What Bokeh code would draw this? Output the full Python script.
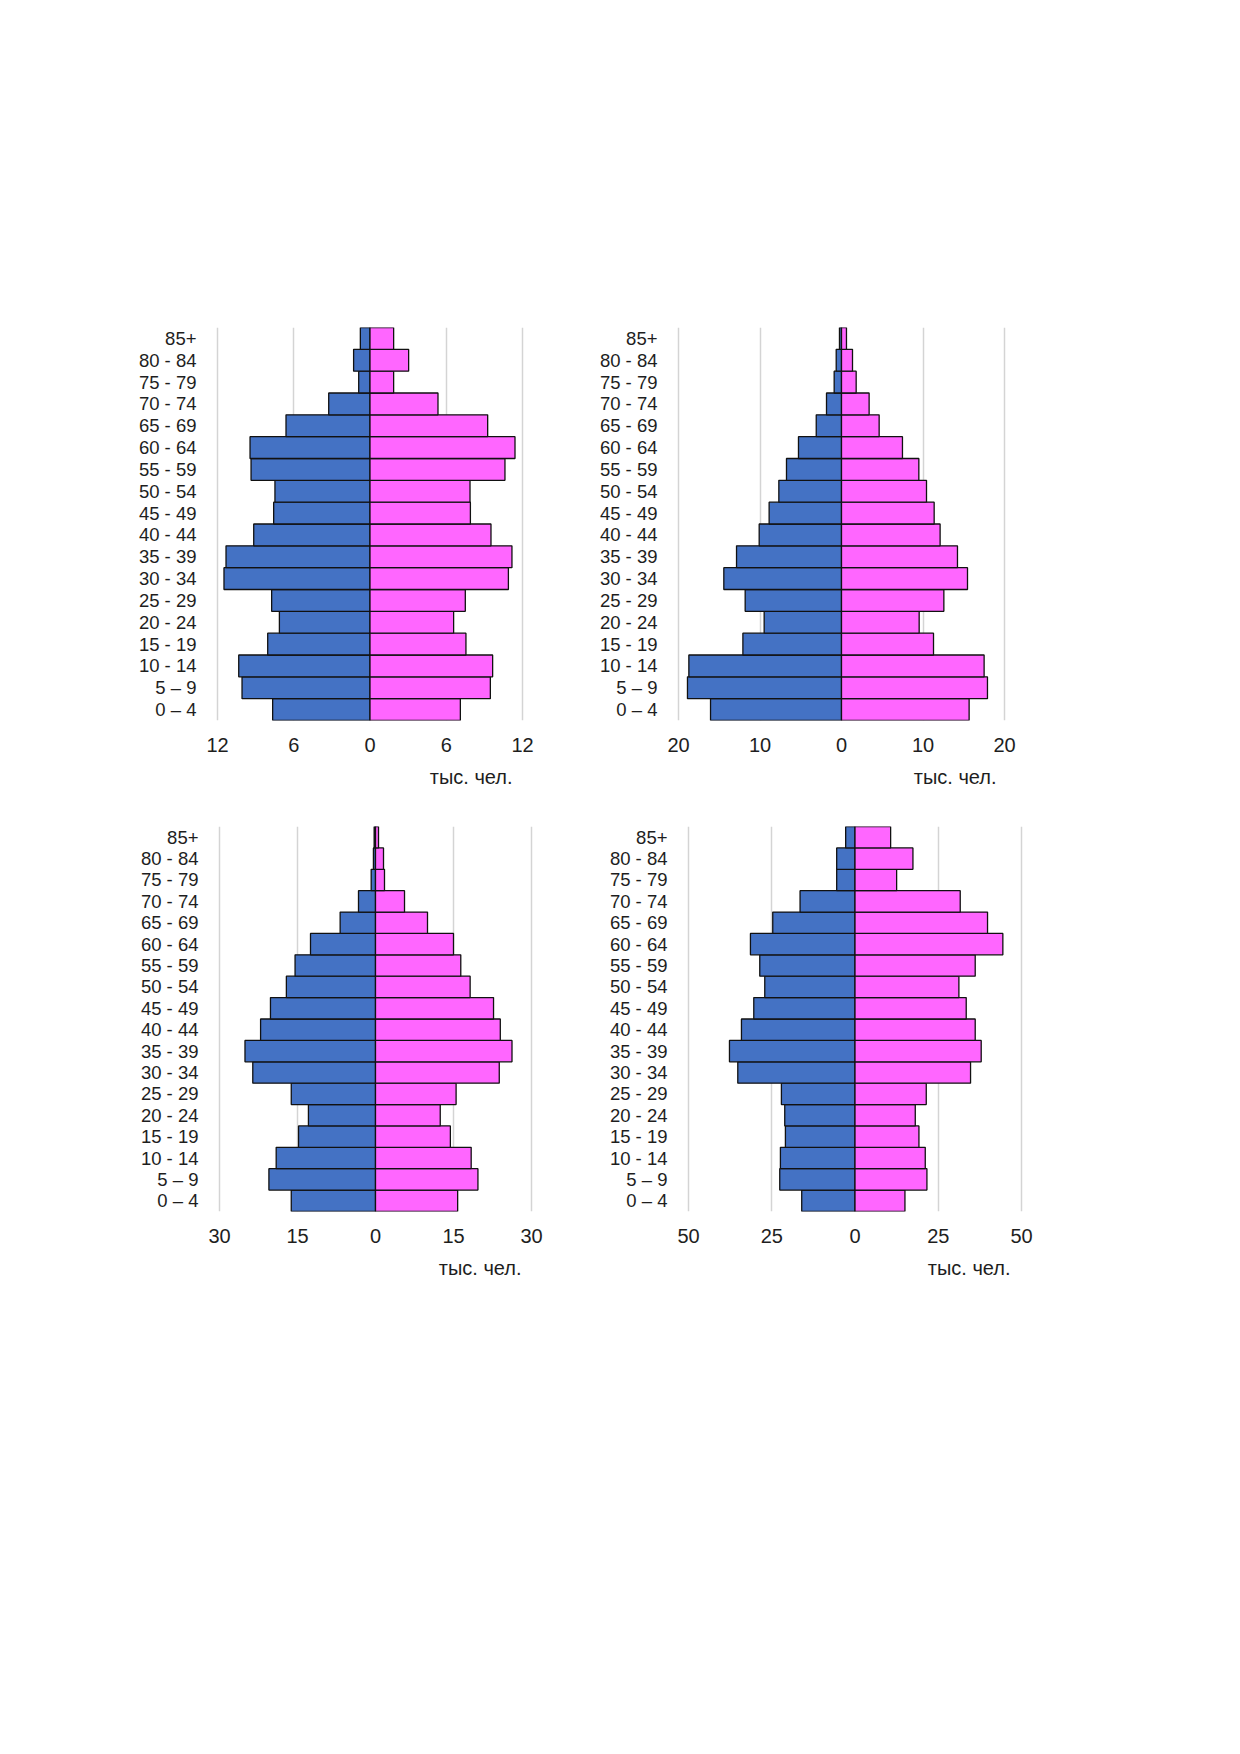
from bokeh.plotting import figure
from bokeh.layouts import row, column
from bokeh.models import FixedTicker, Range1d, FactorRange, Title, ColumnDataSource
from bokeh.embed import file_html
from bokeh.resources import INLINE

# age groups, bottom to top
ages = ["0 – 4", "5 – 9", "10 - 14", "15 - 19", "20 - 24", "25 - 29", "30 - 34",
        "35 - 39", "40 - 44", "45 - 49", "50 - 54", "55 - 59", "60 - 64",
        "65 - 69", "70 - 74", "75 - 79", "80 - 84", "85+"]

# thousand people
male_1 = [7.66, 10.07, 10.33, 8.05, 7.13, 7.74, 11.49, 11.33, 9.15, 7.58, 7.48, 9.36, 9.44, 6.61, 3.25, 0.89, 1.29, 0.76]
female_1 = [7.11, 9.47, 9.65, 7.55, 6.58, 7.5, 10.89, 11.17, 9.52, 7.9, 7.87, 10.62, 11.41, 9.26, 5.35, 1.86, 3.04, 1.86]

male_2 = [16.07, 18.9, 18.73, 12.1, 9.49, 11.82, 14.44, 12.88, 10.1, 8.88, 7.69, 6.75, 5.28, 3.1, 1.84, 0.9, 0.65, 0.25]
female_2 = [15.66, 17.91, 17.5, 11.29, 9.53, 12.56, 15.46, 14.23, 12.1, 11.37, 10.43, 9.49, 7.48, 4.62, 3.39, 1.8, 1.35, 0.61]

male_3 = [16.2, 20.5, 19.1, 14.8, 12.9, 16.2, 23.6, 25.1, 22.1, 20.2, 17.14, 15.47, 12.5, 6.8, 3.27, 0.83, 0.4, 0.26]
female_3 = [15.8, 19.7, 18.4, 14.4, 12.45, 15.5, 23.8, 26.25, 24.0, 22.7, 18.2, 16.4, 15.0, 10.0, 5.58, 1.73, 1.54, 0.58]

male_4 = [16.0, 22.6, 22.4, 20.9, 21.1, 22.1, 35.2, 37.7, 34.1, 30.4, 27.1, 28.6, 31.4, 24.7, 16.5, 5.5, 5.5, 2.8]
female_4 = [15.0, 21.6, 21.1, 19.2, 18.1, 21.4, 34.7, 37.9, 36.1, 33.4, 31.2, 36.1, 44.4, 39.8, 31.6, 12.5, 17.4, 10.7]

ticks_1 = [-12, -6, 0, 6, 12]
ticks_2 = [-20, -10, 0, 10, 20]
ticks_3 = [-30, -15, 0, 15, 30]
ticks_4 = [-50, -25, 0, 25, 50]

unit_text = "тыс. чел."

MALE_COLOR = "#4472C4"
FEMALE_COLOR = "#FF66FF"
FONT = "Liberation Sans"
TEXT_COLOR = "#1e1e1e"


def pyramid(male, female, ticks, fig_x0, fig_y0, fig_w, fig_h,
            grid_left, grid_right, frame_top, frame_bottom, unit_right):
    pad = 5
    X = max(ticks)
    scale = (grid_right - grid_left) / (2.0 * X)
    frame_left = grid_left - pad
    frame_w = grid_right - grid_left + 2 * pad
    frame_h = frame_bottom - frame_top
    mbl = frame_left - fig_x0
    mbr = fig_w - mbl - frame_w
    mbt = frame_top - fig_y0
    mbb = fig_h - mbt - frame_h
    xr = Range1d(-X - pad / scale, X + pad / scale)
    yr = FactorRange(factors=ages, range_padding=0)

    p = figure(frame_width=frame_w, frame_height=frame_h,
               min_border_left=mbl, min_border_right=mbr,
               min_border_top=mbt, min_border_bottom=mbb,
               x_range=xr, y_range=yr, output_backend="svg",
               toolbar_location=None, background_fill_color="white",
               border_fill_color="white", outline_line_color=None)

    src = ColumnDataSource(dict(age=ages,
                                mleft=[-v for v in male],
                                fright=list(female),
                                zero=[0] * len(ages)))
    p.hbar(y="age", left="mleft", right="zero", height=1.0, source=src,
           fill_color=MALE_COLOR, line_color="#111111", line_width=1.3)
    p.hbar(y="age", left="zero", right="fright", height=1.0, source=src,
           fill_color=FEMALE_COLOR, line_color="#111111", line_width=1.3)

    p.ygrid.grid_line_color = None
    p.xgrid.grid_line_color = "#d4d4d4"
    p.xgrid.grid_line_width = 1.5
    p.xaxis.ticker = FixedTicker(ticks=ticks)
    p.xaxis.major_label_overrides = {t: str(abs(t)) for t in ticks}
    p.xaxis.axis_line_color = None
    p.xaxis.major_tick_line_color = None
    p.xaxis.minor_tick_line_color = None
    p.xaxis.major_tick_in = 0
    p.xaxis.major_tick_out = 0
    p.xaxis.major_label_standoff = 17
    p.xaxis.major_label_text_font = FONT
    p.xaxis.major_label_text_font_size = "20px"
    p.xaxis.major_label_text_color = TEXT_COLOR

    p.yaxis.axis_line_color = None
    p.yaxis.major_tick_line_color = None
    p.yaxis.major_tick_in = 0
    p.yaxis.major_tick_out = 0
    p.yaxis.major_label_standoff = 16
    p.yaxis.major_label_text_font = FONT
    p.yaxis.major_label_text_font_size = "18.5px"
    p.yaxis.major_label_text_color = TEXT_COLOR

    # unit caption below the x axis, right edge placed left of the frame edge
    frame_right = frame_left + frame_w
    p.add_layout(Title(text=unit_text, align="right", offset=frame_right + 4 - unit_right,
                       text_font=FONT, text_font_size="20px",
                       text_font_style="normal", text_color=TEXT_COLOR,
                       standoff=18), "below")
    return p


X_L = 0
X_R = 560
p1 = pyramid(male_1, female_1, ticks_1, X_L, 8, 560, 800, 217, 522, 330, 723, 516)
p2 = pyramid(male_2, female_2, ticks_2, X_R, 8, 600, 800, 678, 1004, 335, 728, 1000)
p3 = pyramid(male_3, female_3, ticks_3, X_L, 808, 560, 500, 219, 531, 833, 1218, 525)
p4 = pyramid(male_4, female_4, ticks_4, X_R, 808, 600, 500, 688, 1021, 834, 1219, 1014)

layout = column(row(p1, p2), row(p3, p4))

open("out.html", "w").write(file_html(layout, INLINE))
